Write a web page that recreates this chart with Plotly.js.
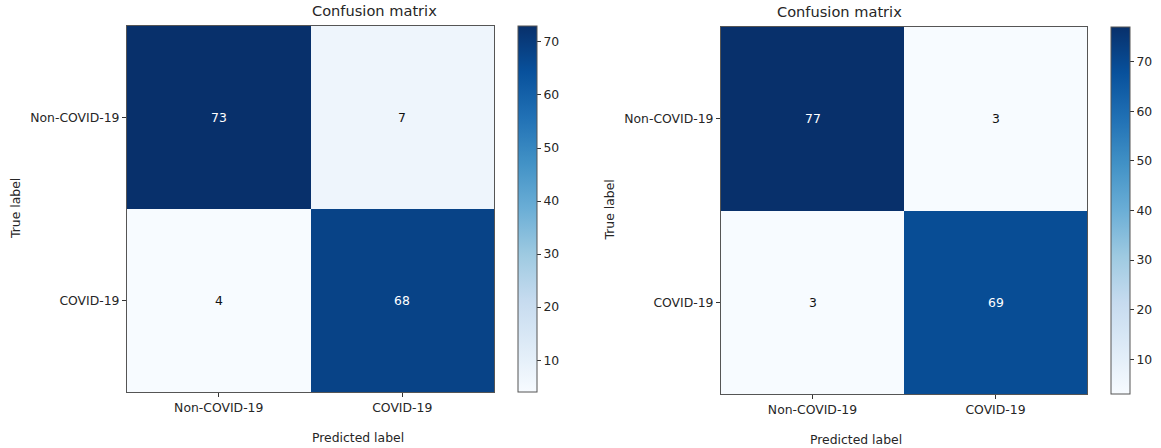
<!DOCTYPE html>
<html>
<head>
<meta charset="utf-8">
<script src="https://cdn.plot.ly/plotly-3.0.1.min.js"></script>
<style>
  html, body { margin: 0; padding: 0; background: #ffffff; }
  #chart { width: 1161px; height: 448px; }
</style>
</head>
<body>
<div id="chart"></div>
<script>
// Class labels (predicted along x, true along y)
const classLabels = ['Non-COVID-19', 'COVID-19'];

// Confusion matrices: rows = true label, columns = predicted label
const matrixA = [
  [73, 7],
  [4, 68]
];
const matrixB = [
  [77, 3],
  [3, 69]
];

const colorbarTicks = [10, 20, 30, 40, 50, 60, 70];
const plotTitle = 'Confusion matrix';
const xTitle = 'Predicted label';
const yTitle = 'True label';

// Matplotlib "Blues" colormap stops
const blues = [
  [0.000, '#f7fbff'], [0.125, '#deebf7'], [0.250, '#c6dbef'],
  [0.375, '#9ecae1'], [0.500, '#6baed6'], [0.625, '#4292c6'],
  [0.750, '#2171b5'], [0.875, '#08519c'], [1.000, '#08306b']
];

const W = 1161, H = 448;
const FONT = 'DejaVu Sans, Arial, sans-serif';
const TXT = '#262626';
const FS = 12.4;

// Panel geometry in pixels: [left, top, right, bottom] of the matrix area
const panels = [
  { z: matrixA, box: [127, 26, 494, 392], cbLeft: 517.5, xa: 'x', ya: 'y' },
  { z: matrixB, box: [721, 27, 1087, 394], cbLeft: 1110.5, xa: 'x2', ya: 'y2' }
];

const px = v => v / W;
const py = v => 1 - v / H;

const traces = [];
const annotations = [];
const layout = {
  width: W, height: H,
  margin: { l: 0, r: 0, t: 0, b: 0 },
  paper_bgcolor: '#ffffff',
  plot_bgcolor: '#ffffff',
  font: { family: FONT, size: FS, color: TXT },
  showlegend: false
};

panels.forEach((p, i) => {
  const [l, t, r, b] = p.box;
  const flat = p.z.flat();
  const zmin = Math.min(...flat), zmax = Math.max(...flat);
  const thresh = zmax / 2;
  const sfx = i === 0 ? '' : '2';

  traces.push({
    type: 'heatmap',
    x: classLabels,
    y: classLabels,
    z: p.z,
    xaxis: p.xa,
    yaxis: p.ya,
    zmin: zmin,
    zmax: zmax,
    colorscale: blues,
    hoverinfo: 'skip',
    xgap: 0, ygap: 0,
    colorbar: {
      x: px(p.cbLeft), xanchor: 'left', xref: 'paper',
      y: py(b), yanchor: 'bottom', yref: 'paper',
      lenmode: 'pixels', len: b - t,
      thicknessmode: 'pixels', thickness: 19,
      xpad: 0, ypad: 0,
      outlinecolor: '#555555', outlinewidth: 1,
      ticks: 'outside', ticklen: 4, tickwidth: 1, tickcolor: '#333333',
      tickvals: colorbarTicks,
      tickfont: { family: FONT, size: FS, color: TXT },
      borderwidth: 0
    }
  });

  layout['xaxis' + sfx] = {
    domain: [px(l), px(r)],
    anchor: 'y' + sfx,
    type: 'category',
    categoryorder: 'array', categoryarray: classLabels,
    range: [-0.5, 1.5],
    showgrid: false, zeroline: false,
    showline: true, mirror: true, linecolor: '#555555', linewidth: 1,
    ticks: 'outside', ticklen: 4, tickcolor: '#333333',
    tickfont: { family: FONT, size: FS, color: TXT },
    fixedrange: true
  };
  layout['yaxis' + sfx] = {
    domain: [py(b), py(t)],
    anchor: 'x' + sfx,
    type: 'category',
    categoryorder: 'array', categoryarray: classLabels,
    range: [1.5, -0.5],
    showgrid: false, zeroline: false,
    showline: true, mirror: true, linecolor: '#555555', linewidth: 1,
    ticks: 'outside', ticklen: 4, tickcolor: '#333333',
    tickfont: { family: FONT, size: FS, color: TXT },
    fixedrange: true
  };

  // Cell counts
  p.z.forEach((row, ri) => {
    row.forEach((v, ci) => {
      annotations.push({
        xref: p.xa, yref: p.ya,
        x: classLabels[ci], y: classLabels[ri],
        text: String(v), showarrow: false,
        font: { family: FONT, size: FS, color: v > thresh ? '#ffffff' : '#111111' }
      });
    });
  });

  const cx = px((l + r) / 2);
  // Panel title
  annotations.push({
    xref: 'paper', yref: 'paper', x: cx, y: py(t - 5), yanchor: 'bottom',
    text: plotTitle, showarrow: false,
    font: { family: FONT, size: 14.6, color: TXT }
  });
  // Axis titles
  annotations.push({
    xref: 'paper', yref: 'paper', x: cx, y: py(b + 45), yanchor: 'middle',
    text: xTitle, showarrow: false,
    font: { family: FONT, size: FS, color: TXT }
  });
  annotations.push({
    xref: 'paper', yref: 'paper', x: px(l - 112), y: py((t + b) / 2),
    xanchor: 'center', yanchor: 'middle', textangle: -90,
    text: yTitle, showarrow: false,
    font: { family: FONT, size: FS, color: TXT }
  });
});

layout.annotations = annotations;

Plotly.newPlot('chart', traces, layout, { displayModeBar: false, staticPlot: true });
</script>
</body>
</html>
